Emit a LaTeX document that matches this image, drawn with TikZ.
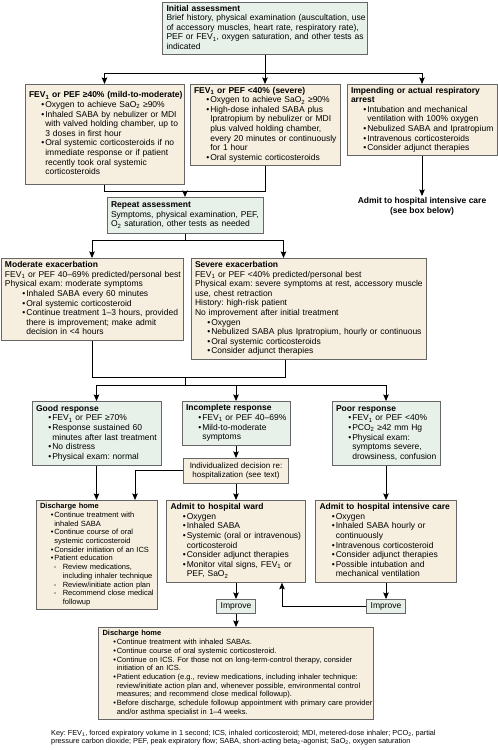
\documentclass[tikz,border=0pt]{standalone}
\usepackage{fontspec}
\setmainfont{Liberation Sans}
\usetikzlibrary{positioning, arrows.meta, calc}

\definecolor{mint}{HTML}{E8F0EA}
\definecolor{sand}{HTML}{F6EFDF}
\definecolor{rim}{HTML}{666666}

\frenchspacing
% lines of a box, one per row
\newcommand{\rows}[1]{\begin{tabular}{@{}l@{}}#1\end{tabular}}
\newcommand{\hd}[1]{\textbf{#1}}
\newcommand{\itm}[2][12.3pt]{\hbox to #1{}\textbullet\kern1pt #2}
\newcommand{\ctd}[2][16.3pt]{\hbox to #1{}#2}
\newcommand{\itms}[1]{\hbox to 10.8pt{}\textbullet\kern0.9pt #1}
\newcommand{\ctds}[1]{\hbox to 14.3pt{}#1}
\newcommand{\dsh}[1]{\hbox to 13.9pt{}-\kern6.4pt #1}
\newcommand{\dct}[1]{\hbox to 22.8pt{}#1}

\begin{document}
\begin{tikzpicture}[x=1pt, y=-1pt,
  box/.style={draw=rim, line width=0.7pt, align=left, anchor=north,
              inner xsep=4pt, inner ysep=2pt, font=\fontsize{8.5}{9.6}\selectfont},
  mintbox/.style={box, fill=mint},
  sandbox/.style={box, fill=sand},
  small/.style={font=\fontsize{7.5}{8.7}\selectfont},
  link/.style={draw, line width=0.9pt},
  arrow/.style={link, -{Stealth[length=6.5pt,width=5.5pt,inset=1pt]}}
]
\path[fill=white, use as bounding box] (0,0) rectangle (498,750);

% Initial assessment and first treatment
\node[mintbox, text width=197pt, minimum height=52pt] (init) at (265,2)
  {\rows{\hd{Initial assessment}\\
   Brief history, physical examination (auscultation, use\\
   of accessory muscles, heart rate, respiratory rate),\\
   PEF or FEV\textsubscript{1}, oxygen saturation, and other tests as\\
   indicated}};

\node[sandbox, text width=151pt, minimum height=100pt] (mild) at (104.5,84)
  {\rows{\hd{FEV\textsubscript{1} or PEF ≥40\% (mild-to-moderate)}\\
   \itm{Oxygen to achieve SaO\textsubscript{2} ≥90\%}\\
   \itm{Inhaled SABA by nebulizer or MDI}\\
   \ctd{with valved holding chamber, up to}\\
   \ctd{3 doses in first hour}\\
   \itm{Oral systemic corticosteroids if no}\\
   \ctd{immediate response or if patient}\\
   \ctd{recently took oral systemic}\\
   \ctd{corticosteroids}}};

\node[sandbox, text width=142pt, minimum height=81pt] (sev) at (265,84)
  {\rows{\hd{FEV\textsubscript{1} or PEF <40\% (severe)}\\
   \itm{Oxygen to achieve SaO\textsubscript{2} ≥90\%}\\
   \itm{High-dose inhaled SABA plus}\\
   \ctd{Ipratropium by nebulizer or MDI}\\
   \ctd{plus valved holding chamber,}\\
   \ctd{every 20 minutes or continuously}\\
   \ctd{for 1 hour}\\
   \itm{Oral systemic corticosteroids}}};

\node[sandbox, text width=142pt, minimum height=71pt] (arrest) at (422,84)
  {\rows{\hd{Impending or actual respiratory}\\
   \hd{arrest}\\
   \itm{Intubation and mechanical}\\
   \ctd{ventilation with 100\% oxygen}\\
   \itm{Nebulized SABA and Ipratropium}\\
   \itm{Intravenous corticosteroids}\\
   \itm{Consider adjunct therapies}}};

\node[anchor=north, align=center, inner sep=1.5pt, font=\fontsize{8.5}{9.6}\selectfont\bfseries]
  (adm) at (422,196) {Admit to hospital intensive care\\(see box below)};

\coordinate (j1) at (265,73);
\draw[link] (init.south) -- (j1);
\draw[arrow] (j1) -| (mild.north);
\draw[arrow] (j1) -- (sev.north);
\draw[arrow] (j1) -| (arrest.north);
\draw[arrow] (arrest.south) -- (adm.north);

% Repeat assessment
\node[mintbox, text width=148pt, minimum height=36pt] (rpt) at (185,197)
  {\rows{\hd{Repeat assessment}\\
   Symptoms, physical examination, PEF,\\
   O\textsubscript{2} saturation, other tests as needed}};

\coordinate (j2) at (185,191);
\draw[link] (mild.south) |- (j2);
\draw[link] (sev.south) |- (j2);
\draw[arrow] (j2) -- (rpt.north);

% Exacerbation boxes
\node[sandbox, text width=174pt, minimum height=82pt] (modex) at (92,258)
  {\rows{\hd{Moderate exacerbation}\\
   FEV\textsubscript{1} or PEF 40–69\% predicted/personal best\\
   Physical exam: moderate symptoms\\
   \itm[17.4pt]{Inhaled SABA every 60 minutes}\\
   \itm[17.4pt]{Oral systemic corticosteroid}\\
   \itm[17.4pt]{Continue treatment 1–3 hours, provided}\\
   \ctd[21.4pt]{there is improvement; make admit}\\
   \ctd[21.4pt]{decision in <4 hours}}};

\node[sandbox, text width=227pt, minimum height=101pt] (sevex) at (308.5,258)
  {\rows{\hd{Severe exacerbation}\\
   FEV\textsubscript{1} or PEF <40\% predicted/personal best\\
   Physical exam: severe symptoms at rest, accessory muscle\\
   use, chest retraction\\
   History: high-risk patient\\
   No improvement after initial treatment\\
   \itm{Oxygen}\\
   \itm{Nebulized SABA plus Ipratropium, hourly or continuous}\\
   \itm{Oral systemic corticosteroids}\\
   \itm{Consider adjunct therapies}}};

\coordinate (j3) at (185,240);
\draw[link] (rpt.south) -- (j3);
\draw[arrow] (j3) -| (modex.north);
\draw[arrow] (j3) -| ([xshift=-25pt]sevex.north);

% Response to treatment
\node[mintbox, text width=121pt, minimum height=64pt] (good) at (96.5,401)
  {\rows{\hd{Good response}\\
   \itm{FEV\textsubscript{1} or PEF ≥70\%}\\
   \itm{Response sustained 60}\\
   \ctd{minutes after last treatment}\\
   \itm{No distress}\\
   \itm{Physical exam: normal}}};

\node[mintbox, text width=100pt, minimum height=44pt] (incomp) at (236,401)
  {\rows{\hd{Incomplete response}\\
   \itm{FEV\textsubscript{1} or PEF 40–69\%}\\
   \itm{Mild-to-moderate}\\
   \ctd{symptoms}}};

\node[mintbox, text width=100pt, minimum height=64pt] (poor) at (386,401)
  {\rows{\hd{Poor response}\\
   \itm{FEV\textsubscript{1} or PEF <40\%}\\
   \itm{PCO\textsubscript{2} ≥42 mm Hg}\\
   \itm{Physical exam:}\\
   \ctd{symptoms severe,}\\
   \ctd{drowsiness, confusion}}};

\coordinate (j4) at (185,377);
\coordinate (j5) at (185,385);
\draw[link] (modex.south) |- (j4);
\draw[link] ([xshift=-23.5pt]sevex.south) |- (j4);
\draw[link] (j4) -- (j5);
\draw[arrow] (j5) -| (good.north);
\draw[arrow] (j5) -| (incomp.north);
\draw[arrow] (j5) -| (poor.north);

\node[sandbox, align=center, text width=97pt, minimum height=25pt,
      font=\fontsize{8}{9.4}\selectfont] (indiv) at (236,458)
  {\mbox{Individualized decision re:}\\\mbox{hospitalization (see text)}};
\draw[arrow] (incomp.south) -- (indiv.north);

% Discharge or admit
\node[sandbox, small, text width=113pt, minimum height=109pt] (home1) at (96.5,500)
  {\rows{\hd{Discharge home}\\
   \itms{Continue treatment with}\\
   \ctds{inhaled SABA}\\
   \itms{Continue course of oral}\\
   \ctds{systemic corticosteroid}\\
   \itms{Consider initiation of an ICS}\\
   \itms{Patient education}\\
   \dsh{Review medications,}\\
   \dct{including inhaler technique}\\
   \dsh{Review/initiate action plan}\\
   \dsh{Recommend close medical}\\
   \dct{followup}}};

\node[sandbox, text width=131pt, minimum height=82pt] (ward) at (236,500)
  {\rows{\hd{Admit to hospital ward}\\
   \itm{Oxygen}\\
   \itm{Inhaled SABA}\\
   \itm{Systemic (oral or intravenous)}\\
   \ctd{corticosteroid}\\
   \itm{Consider adjunct therapies}\\
   \itm{Monitor vital signs, FEV\textsubscript{1} or}\\
   \ctd{PEF, SaO\textsubscript{2}}}};

\node[sandbox, text width=133pt, minimum height=82pt] (icu) at (386,500)
  {\rows{\hd{Admit to hospital intensive care}\\
   \itm{Oxygen}\\
   \itm{Inhaled SABA hourly or}\\
   \ctd{continuously}\\
   \itm{Intravenous corticosteroid}\\
   \itm{Consider adjunct therapies}\\
   \itm{Possible intubation and}\\
   \ctd{mechanical ventilation}}};

\draw[arrow] (good.south) -- (home1.north);
\draw[arrow] (indiv.west) -| ([xshift=38.5pt]home1.north);
\draw[arrow] (indiv.south) -- (ward.north);
\draw[arrow] (poor.south) -- (icu.north);

% Improve
\node[mintbox, align=center, minimum width=38pt, minimum height=14pt, inner ysep=1pt] (imp1) at (236,599) {Improve};
\node[mintbox, align=center, minimum width=38pt, minimum height=14pt, inner ysep=1pt] (imp2) at (386,599) {Improve};

\draw[arrow] (ward.south) -- (imp1.north);
\draw[arrow] (icu.south) -- (imp2.north);
\draw[arrow] (imp2.west) -| ([xshift=46pt]ward.south);

\node[sandbox, small, text width=267pt, minimum height=92pt] (home2) at (236,627)
  {\rows{\hd{Discharge home}\\
   \itms{Continue treatment with inhaled SABAs.}\\
   \itms{Continue course of oral systemic corticosteroid.}\\
   \itms{Continue on ICS. For those not on long-term-control therapy, consider}\\
   \ctds{initiation of an ICS.}\\
   \itms{Patient education (e.g., review medications, including inhaler technique:}\\
   \ctds{review/initiate action plan and, whenever possible, environmental control}\\
   \ctds{measures; and recommend close medical followup).}\\
   \itms{Before discharge, schedule followup appointment with primary care provider}\\
   \ctds{and/or asthma specialist in 1–4 weeks.}}};
\draw[arrow] (imp1.south) -- (home2.north);

% Key
\node[anchor=north west, align=left, inner sep=0pt, font=\fontsize{7.3}{8.3}\selectfont] (key) at (51,730)
  {Key: FEV\textsubscript{1}, forced expiratory volume in 1 second; ICS, inhaled corticosteroid; MDI, metered-dose inhaler; PCO\textsubscript{2}, partial\\
   pressure carbon dioxide; PEF, peak expiratory flow; SABA, short-acting beta\textsubscript{2}-agonist; SaO\textsubscript{2}, oxygen saturation};

\end{tikzpicture}
\end{document}
